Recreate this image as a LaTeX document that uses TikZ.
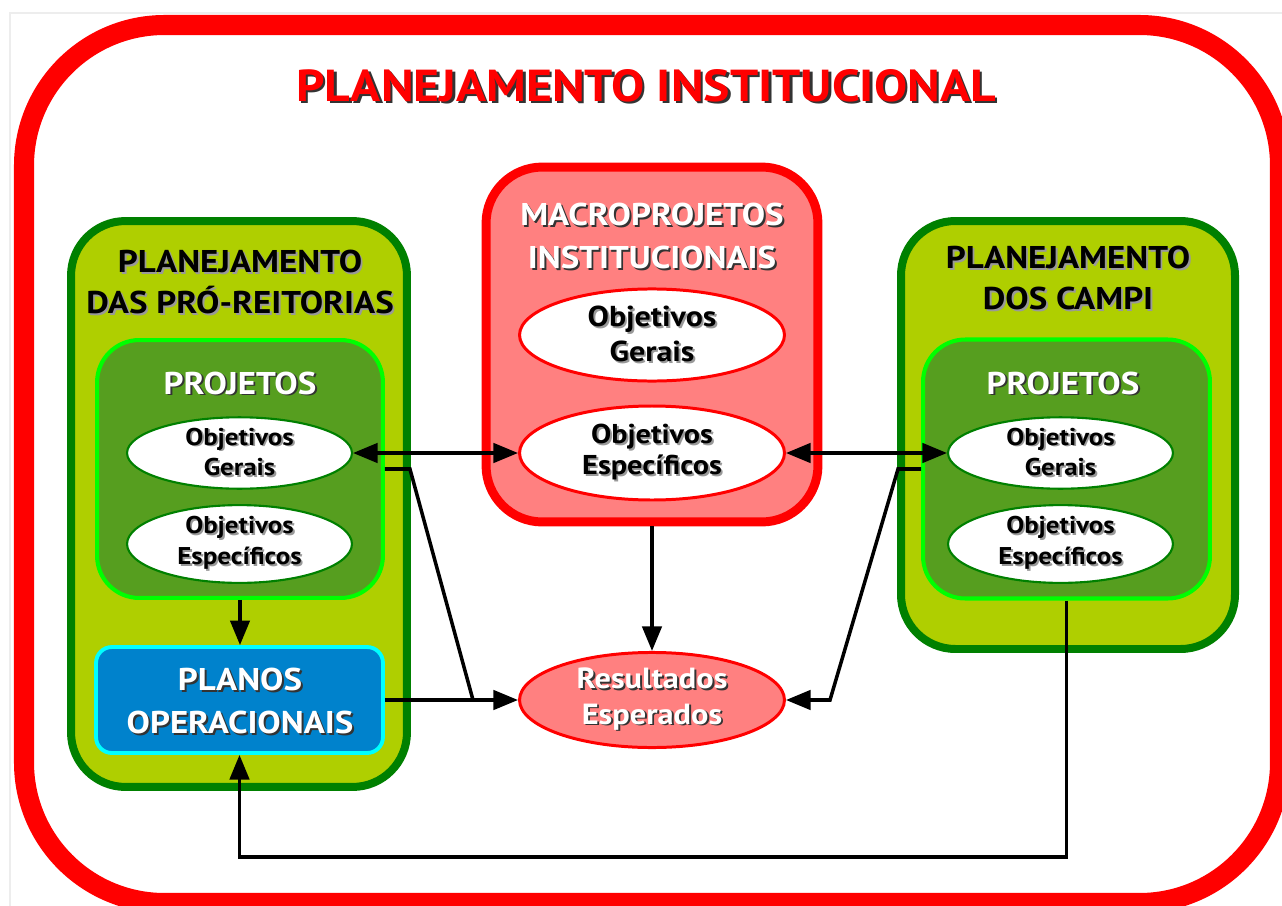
\documentclass[tikz,border=0pt]{standalone}
\usepackage{fontspec}
\setmainfont{PT Sans}[FakeStretch=1.11]
\usetikzlibrary{arrows.meta,shapes.geometric}
\definecolor{fr}{HTML}{FF0000}
\definecolor{dg}{HTML}{008000}
\definecolor{yg}{HTML}{AFCF00}
\definecolor{pg}{HTML}{569E1F}
\definecolor{lg}{HTML}{00FF00}
\definecolor{bl}{HTML}{0082CC}
\definecolor{cy}{HTML}{00FFFF}
\definecolor{pk}{HTML}{FF8080}
\definecolor{sdark}{HTML}{333333}
\definecolor{slight}{HTML}{999999}
\newcommand\shd[3][1.1pt]{\leavevmode\rlap{\kern#1\raisebox{-#1}{\textcolor{#2}{#3}}}#3}
\newcommand\fs[2]{\fontsize{#1}{#2}\selectfont\bfseries}
\begin{document}
\begin{tikzpicture}[x=0.02cm,y=-0.02cm,
  gbox/.style={rectangle, draw=dg, fill=yg, line width=4.55pt, rounded corners=31pt, inner sep=0pt},
  pbox/.style={rectangle, draw=lg, fill=pg, line width=2.3pt, rounded corners=24pt, inner sep=0pt},
  bbox/.style={rectangle, draw=cy, fill=bl, line width=2.2pt, rounded corners=9pt, inner sep=0pt},
  mbox/.style={rectangle, draw=fr, fill=pk, line width=5.1pt, rounded corners=32pt, inner sep=0pt},
  gell/.style={ellipse, draw=dg, fill=white, line width=1.2pt, inner sep=0pt, align=center,
    minimum width=128pt, minimum height=40pt, font=\fs{13.8}{17.6}},
  rell/.style={ellipse, draw=fr, fill=white, line width=1.7pt, inner sep=0pt, align=center,
    minimum width=150.8pt},
  ttl/.style={align=center, inner sep=0pt, font=\fs{17.9}{23.4}},
  wtl/.style={align=center, inner sep=0pt, text=white, font=\fs{17.9}{23.4}},
  link/.style={line width=2pt},
  conn/.style={line width=2pt, -{Triangle[length=14pt,width=11pt]}},
  dconn/.style={line width=2pt, {Triangle[length=14pt,width=11pt]}-{Triangle[length=14pt,width=11pt]}}]
\clip (0,0) rectangle (1282,906);
\fill[white] (0,0) rectangle (1282,906);
\draw[black!7, line width=1.5pt] (10,906) -- (10,13) -- (1282,13);
% outer frame
\draw[fr, line width=11.4pt, rounded corners=80pt] (24,25) rectangle (1280,903);
\node[text=fr, inner sep=0pt, font=\fs{25.5}{30}] (title) at (646,87) {\shd[1.5pt]{sdark}{PLANEJAMENTO INSTITUCIONAL}};

% left block
\node[gbox, minimum width=191.2pt, minimum height=322.1pt] (lbox) at (239,504) {};
\node[ttl] (ltitle) at (240,283) {\shd{slight}{PLANEJAMENTO}\\\shd{slight}{DAS PRÓ-REITORIAS}};
\node[pbox, minimum width=162.7pt, minimum height=146.8pt] (lp) at (240,469) {};
\node[wtl] (lptxt) at (240,384) {\shd{sdark}{PROJETOS}};
\node[gell] (lg) at (239.5,453) {\shd{slight}{Objetivos}\\\shd{slight}{Gerais}};
\node[gell] (le) at (239.5,544) {\shd{slight}{Objetivos}\\\shd{slight}{Específicos}};
\node[bbox, minimum width=163.3pt, minimum height=60.3pt] (bb) at (239.5,700) {};
\node[wtl, font=\fs{17.9}{24}] (bbtxt) at (240,702) {\shd{sdark}{PLANOS}\\\shd{sdark}{OPERACIONAIS}};

% center block
\node[mbox, minimum width=188.9pt, minimum height=202pt] (mb) at (652,344.5) {};
\node[wtl, font=\fs{17.9}{24}] (mbtxt) at (652,237) {\shd{sdark}{MACROPROJETOS}\\\shd{sdark}{INSTITUCIONAIS}};
\node[rell, minimum height=52.4pt, font=\fs{16.4}{20}] (mg) at (652,335) {\shd{slight}{Objetivos}\\\shd{slight}{Gerais}};
\node[rell, minimum height=53.5pt, font=\fs{15.5}{17.6}] (me) at (652,453) {\shd{slight}{Objetivos}\\\shd{slight}{Específicos}};
\node[ellipse, draw=fr, fill=pk, line width=1.7pt, inner sep=0pt, align=center, text=white,
  minimum width=150.8pt, minimum height=54.1pt, font=\fs{16.6}{20}] (re) at (652,700) {\shd{sdark}{Resultados}\\\shd{sdark}{Esperados}};

% right block
\node[gbox, minimum width=190.1pt, minimum height=243.6pt] (rbox) at (1068,435) {};
\node[ttl] (rtitle) at (1068,279) {\shd{slight}{PLANEJAMENTO}\\\shd{slight}{DOS CAMPI}};
\node[pbox, minimum width=163.3pt, minimum height=147.4pt] (rp) at (1066.5,469) {};
\node[wtl] (rptxt) at (1063,384) {\shd{sdark}{PROJETOS}};
\node[gell] (rg) at (1060.5,453) {\shd{slight}{Objetivos}\\\shd{slight}{Gerais}};
\node[gell] (re2) at (1060.5,544) {\shd{slight}{Objetivos}\\\shd{slight}{Específicos}};

% connectors
\coordinate (lj) at (473,700);
\coordinate (rj) at (830,700);
\coordinate (bot) at (0,857);
\draw[dconn] (lg.east) -- (lg.east -| me.west);
\draw[dconn] (me.east) -- (me.east -| rg.west);
\draw[link] (lp.east) -- ++(25,0) -- (lj);
\draw[conn] (bb.east) -- (re.west);
\draw[conn] (rp.west) -- ++(-23,0) -- (rj) -- (re.east);
\draw[conn] (mb.south) -- (re.north);
\draw[conn] (lp.south) -- (lp.south |- bb.north);
\draw[conn] (rp.south) -- (rp.south |- bot) -- (bb.south |- bot) -- (bb.south);
\end{tikzpicture}
\end{document}
